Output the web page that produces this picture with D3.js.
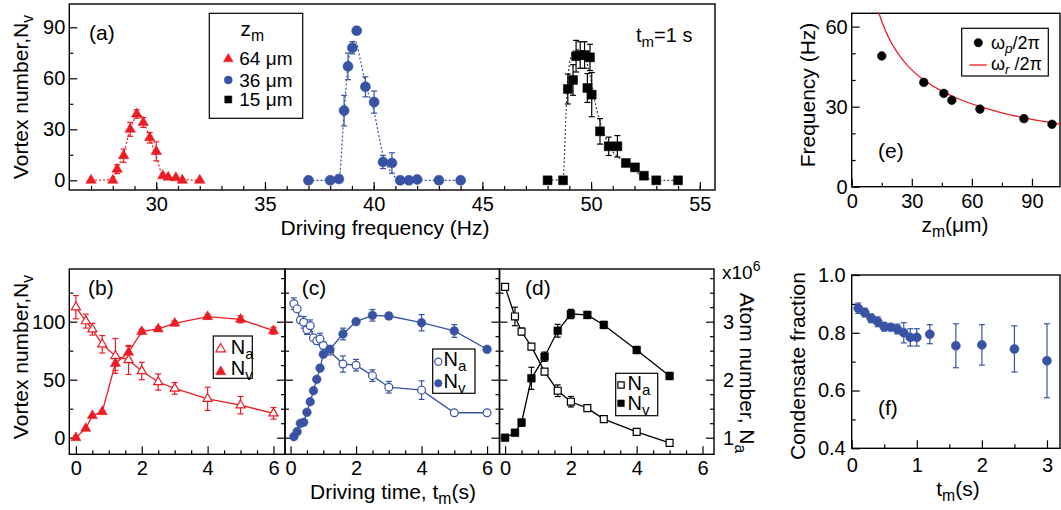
<!DOCTYPE html>
<html>
<head>
<meta charset="utf-8">
<style>
  body { margin: 0; background: #fff; }
  svg text { font-family: "Liberation Sans", Arial, sans-serif; fill: #000; }
  svg .tick text { font-size: 20px; }
  svg .tick line { stroke: #000; stroke-width: 1.2px; }
  svg .frame { fill: none; stroke: #000; stroke-width: 1.4px; }
  svg .legbox { fill: #fff; stroke: #000; stroke-width: 1.2px; }
</style>
</head>
<body>
<script src="https://d3js.org/d3.v7.min.js"></script>
<script>
// ---------- data ----------
// (a) vortex number vs driving frequency, three z_m values
var redF  = [27, 28, 28.2, 28.5, 28.8, 29.1, 29.4, 29.7, 30.0, 30.3, 30.55, 30.9, 31.2, 32];
var redN  = [0, 0, 6.5, 14.5, 30, 39, 34, 25, 17, 2.7, 1.8, 1.5, 0, 0];
var redE  = [0, 0, 2.6, 3.9, 4.1, 2.5, 2.9, 3.1, 5.6, 0, 0, 0, 0, 0];
var redFitF = [27, 28, 28.2, 28.5, 28.8, 29.1, 29.25, 29.4, 29.7, 30.0, 30.3, 30.6, 31, 32];
var redFitN = [0, 0.5, 7, 16, 30, 38, 39, 35, 25, 14, 3, 1.5, 0.8, 0];

var blueF = [37, 38, 38.4, 38.64, 38.82, 39.02, 39.22, 39.62, 40.02, 40.43, 40.84, 41.22, 41.62, 42.0, 43, 44];
var blueN = [0, 0, 0.8, 41, 67, 78, 88, 55, 46, 10.8, 10.2, 0, 0, 0.5, 0, 0];
var blueE = [0, 0, 0, 9, 7.8, 3.6, 0, 5.9, 6.5, 3.9, 6, 0, 0, 0, 0, 0];
var blueFitF = [37, 38, 38.4, 38.64, 38.82, 39.0, 39.15, 39.4, 39.62, 40.02, 40.43, 40.84, 41.22, 42, 44];
var blueFitN = [0, 0, 1, 40, 68, 80, 82, 70, 57, 40, 15, 4, 0.5, 0, 0];

var blackF = [48, 48.71, 48.93, 49.17, 49.31, 49.5, 49.7, 49.83, 49.95, 50.03, 50.41, 50.81, 51.21, 51.6, 52.02, 52.43, 53, 54];
var blackN = [0, 0, 53.7, 59, 73, 73.7, 73.7, 54.3, 72.3, 50.4, 28.8, 20, 20, 10.2, 7.6, 2.7, 0, 0];
var blackE = [0, 0, 8.8, 9, 9.3, 7.8, 7.8, 8.5, 7.7, 13, 7.5, 5.4, 6.3, 1.5, 1.5, 0, 0, 0];
var blackFitF = [48, 48.71, 48.85, 49.0, 49.2, 49.45, 49.7, 49.95, 50.2, 50.5, 50.8, 51.5, 52.3, 53, 54];
var blackFitN = [0, 0.5, 40, 68, 76, 77, 73, 62, 45, 31, 21, 11, 3, 0, 0];

// (e) peak frequency vs z_m, and radial trap frequency curve
var eZ = [15, 36, 46, 50, 64, 86, 100];
var eF = [49, 39.1, 35.0, 32.4, 29.1, 25.5, 23.4];
var eCurveZ = [13.5, 15, 18, 22, 26, 30, 36, 45, 55, 65, 75, 85, 95, 104];
var eCurveF = [65.3, 62, 56.6, 51.2, 47.1, 43.8, 40, 35.8, 32.4, 29.8, 27.7, 26, 24.6, 23.5];

// (b) 64 um
var bT = [0, 0.3, 0.5, 0.8, 1.2, 1.6, 2, 2.5, 3, 4, 5, 6];
var bNv = [0, 8, 19, 22.4, 64, 73.6, 91.4, 93.7, 98.6, 104.3, 102, 92.2];
var bNvE = [0, 0, 0, 0, 6, 5, 2, 2, 2, 2, 3, 3];
var bNa = [3.25, 3.01, 2.87, 2.61, 2.41, 2.34, 2.15, 1.96, 1.85, 1.67, 1.56, 1.42];
var bNaE = [0.2, 0.12, 0.1, 0.15, 0.3, 0.25, 0.15, 0.14, 0.1, 0.2, 0.15, 0.1];

// (c) 36 um
var cT = [0.1, 0.2, 0.3, 0.4, 0.5, 0.6, 0.7, 0.8, 0.9, 1.0, 1.2, 1.6, 2, 2.5, 3, 4, 5, 6];
var cNv = [0.9, 5.2, 12.4, 13.3, 21.9, 31, 40.5, 50.3, 60, 71.9, 76.2, 89.4, 100, 105.5, 104.9, 99.1, 92, 76.2];
var cNvE = [0, 0, 0, 0, 0, 0, 0, 0, 2, 2, 3, 5, 2, 5, 3, 7, 5.5, 2];
var cNa = [3.31, 3.22, 3.03, 2.99, 2.86, 2.93, 2.72, 2.67, 2.70, 2.59, 2.49, 2.27, 2.25, 2.07, 1.87, 1.82, 1.43, 1.43];
var cNaE = [0.1, 0.05, 0.05, 0.1, 0.08, 0.1, 0.06, 0.06, 0.1, 0.06, 0.05, 0.14, 0.1, 0.1, 0.1, 0.16, 0, 0];

// (d) 15 um
var dT = [0, 0.3, 0.5, 0.8, 1.2, 1.6, 2, 2.5, 3, 4, 5];
var dNv = [0, 4.3, 13, 51.2, 69.8, 92.2, 106.6, 105.8, 97.2, 75.6, 53.2];
var dNvE = [0, 0, 3, 9.5, 4, 5.5, 4, 3, 3, 3, 3];
var dNa = [3.60, 3.09, 2.83, 2.57, 2.14, 1.81, 1.62, 1.51, 1.32, 1.10, 0.91];
var dNaE = [0.05, 0.16, 0.06, 0.04, 0.05, 0.1, 0.09, 0.05, 0.03, 0.03, 0.03];

// (f) condensate fraction
var fT = [0.1, 0.2, 0.3, 0.4, 0.5, 0.6, 0.7, 0.8, 0.9, 1.0, 1.2, 1.6, 2, 2.5, 3];
var fV = [0.885, 0.870, 0.850, 0.838, 0.821, 0.819, 0.813, 0.80, 0.784, 0.784, 0.795, 0.755, 0.758, 0.744, 0.703];
var fE = [0.018, 0.015, 0.015, 0.017, 0.015, 0.01, 0.017, 0.035, 0.03, 0.03, 0.033, 0.076, 0.07, 0.08, 0.128];

var RED = "#ed1c24", BLUE = "#3953a4", BLACK = "#000";

// ---------- helpers ----------
var svg = d3.select("body").append("svg").attr("width", 1061).attr("height", 510);

function panel(left, right, top, bottom, xdom, ydom) {
  return {
    left: left, right: right, top: top, bottom: bottom,
    x: d3.scaleLinear().domain(xdom).range([left, right]),
    y: d3.scaleLinear().domain(ydom).range([bottom, top])
  };
}

function frame(p) {
  svg.append("rect").attr("class", "frame")
    .attr("x", p.left).attr("y", p.top)
    .attr("width", p.right - p.left).attr("height", p.bottom - p.top);
}

function tickAxis(axisFn, scale, tr, major, minor, fmt, pad) {
  var g = svg.append("g").attr("transform", tr)
    .call(axisFn(scale).tickValues(minor).tickSize(-4).tickFormat(""));
  g.select(".domain").remove();
  var g2 = svg.append("g").attr("transform", tr)
    .call(axisFn(scale).tickValues(major).tickSize(-8).tickPadding(pad).tickFormat(fmt));
  g2.select(".domain").remove();
}

function txt(x, y, main, sub, size, anchor, rot, tail, italicSub) {
  var t = svg.append("text")
    .attr("transform", "translate(" + x + "," + y + ")" + (rot ? " rotate(" + rot + ")" : ""))
    .attr("text-anchor", anchor || "start")
    .style("font-size", size + "px");
  t.append("tspan").text(main);
  if (sub) {
    var s = t.append("tspan").attr("dy", size * 0.24).style("font-size", (size * 0.75) + "px").text(sub);
    if (italicSub) s.style("font-style", "italic");
  }
  if (tail) t.append("tspan").attr("dy", sub ? -size * 0.24 : 0).text(tail);
  return t;
}

function errorBars(xs, ys, es, xsc, ysc, color) {
  var g = svg.append("g").attr("stroke", color).attr("stroke-width", 1.2);
  xs.forEach(function (xv, i) {
    if (!es[i]) return;
    var cx = xsc(xv), y0 = ysc(ys[i] - es[i]), y1 = ysc(ys[i] + es[i]);
    g.append("line").attr("x1", cx).attr("x2", cx).attr("y1", y0).attr("y2", y1);
    g.append("line").attr("x1", cx - 3).attr("x2", cx + 3).attr("y1", y0).attr("y2", y0);
    g.append("line").attr("x1", cx - 3).attr("x2", cx + 3).attr("y1", y1).attr("y2", y1);
  });
}

function markers(xs, ys, xsc, ysc, type, size, color, filled) {
  var sym = d3.symbol().type(type).size(size);
  svg.append("g").selectAll("path").data(xs).join("path")
    .attr("transform", function (d, i) { return "translate(" + xsc(d) + "," + ysc(ys[i]) + ")"; })
    .attr("d", sym)
    .attr("fill", filled ? color : "#fff")
    .attr("stroke", color).attr("stroke-width", filled ? 0.5 : 1.2);
}

function connect(xs, ys, xsc, ysc, color, dash, curve) {
  var line = d3.line().x(function (d) { return xsc(d); })
    .y(function (d, i) { return ysc(ys[i]); })
    .curve(curve || d3.curveLinear);
  svg.append("path").attr("d", line(xs)).attr("fill", "none")
    .attr("stroke", color).attr("stroke-width", dash ? 1.2 : 1.3)
    .attr("stroke-dasharray", dash || null);
}

function legendEntry(x, y, type, size, color, filled) {
  svg.append("path").attr("transform", "translate(" + x + "," + y + ")")
    .attr("d", d3.symbol().type(type).size(size)())
    .attr("fill", filled ? color : "#fff").attr("stroke", color).attr("stroke-width", filled ? 0.5 : 1.2);
}

var fmtD = d3.format("d");

// ---------- panel (a) ----------
var pa = panel(69.3, 715, 4, 190, [26, 55.7], [-5.7, 103.7]);
tickAxis(d3.axisBottom, pa.x, "translate(0," + pa.bottom + ")", [30, 35, 40, 45, 50, 55], d3.range(27, 56, 1), fmtD, 7);
tickAxis(d3.axisLeft, pa.y, "translate(" + pa.left + ",0)", [0, 30, 60, 90], [15, 45, 75], fmtD, 4);
frame(pa);

connect(redFitF, redFitN, pa.x, pa.y, RED, "2,2", d3.curveMonotoneX);
connect(blueFitF, blueFitN, pa.x, pa.y, BLUE, "2,2", d3.curveMonotoneX);
connect(blackFitF, blackFitN, pa.x, pa.y, "#444", "2,2", d3.curveMonotoneX);
errorBars(redF, redN, redE, pa.x, pa.y, RED);
errorBars(blueF, blueN, blueE, pa.x, pa.y, BLUE);
errorBars(blackF, blackN, blackE, pa.x, pa.y, BLACK);
markers(redF, redN, pa.x, pa.y, d3.symbolTriangle, 48, RED, true);
markers(blueF, blueN, pa.x, pa.y, d3.symbolCircle, 80, BLUE, true);
markers(blackF, blackN, pa.x, pa.y, d3.symbolSquare, 80, BLACK, true);

txt(89, 40, "(a)", null, 21);
txt(636, 42, "t", "m", 20, "start", 0, "=1 s");
txt(28, 97, "Vortex number,N", "v", 21, "middle", -90);
txt(385, 235, "Driving frequency (Hz)", null, 21, "middle");

svg.append("rect").attr("class", "legbox").attr("x", 209.3).attr("y", 13.3).attr("width", 93.4).attr("height", 105);
txt(240.5, 35.7, "z", "m", 21);
legendEntry(228.3, 59, d3.symbolTriangle, 40, RED, true);
legendEntry(228.3, 80, d3.symbolCircle, 50, BLUE, true);
legendEntry(228.3, 99.5, d3.symbolSquare, 50, BLACK, true);
txt(239.3, 65, "64 \u03bcm", null, 19);
txt(239.3, 86.5, "36 \u03bcm", null, 19);
txt(239.3, 105.5, "15 \u03bcm", null, 19);

// ---------- panel (e) ----------
var pe = panel(851.7, 1060, 13.3, 186.7, [0, 104], [0, 65]);
tickAxis(d3.axisBottom, pe.x, "translate(0," + pe.bottom + ")", [0, 30, 60, 90], [15, 45, 75], fmtD, 7);
tickAxis(d3.axisLeft, pe.y, "translate(" + pe.left + ",0)", [0, 30, 60], [10, 20, 40, 50], fmtD, 4);
frame(pe);
connect(eCurveZ, eCurveF, pe.x, pe.y, RED, null, d3.curveNatural);
markers(eZ, eF, pe.x, pe.y, d3.symbolCircle, 60, BLACK, true);
txt(878, 158, "(e)", null, 21);
txt(815, 95, "Frequency (Hz)", null, 21, "middle", -90);
txt(955, 232, "z", "m", 21, "middle", 0, "(\u03bcm)");

svg.append("rect").attr("class", "legbox").attr("x", 961.7).attr("y", 28.3).attr("width", 86.6).attr("height", 47.7);
legendEntry(978.3, 42.7, d3.symbolCircle, 55, BLACK, true);
svg.append("line").attr("x1", 969.5).attr("x2", 986.7).attr("y1", 65).attr("y2", 65).attr("stroke", RED).attr("stroke-width", 1.3);
txt(991, 49, "\u03c9", "p", 18, "start", 0, "/2\u03c0", true);
txt(991, 70, "\u03c9", "r", 18, "start", 0, " /2\u03c0", true);

// ---------- panels (b), (c), (d) ----------
var nvDom = [-14.3, 145.4], naDom = [0.714, 3.908];
var pb = panel(69.3, 285, 269, 454.3, [-0.2, 6.35], nvDom);
var pc = panel(285, 499.5, 269, 454.3, [-0.17, 6.38], nvDom);
var pd = panel(499.5, 714, 269, 454.3, [-0.17, 6.35], nvDom);
var naY = d3.scaleLinear().domain(naDom).range([454.3, 269]);

[pb, pc, pd].forEach(function (p, k) {
  tickAxis(d3.axisBottom, p.x, "translate(0," + p.bottom + ")", [0, 2, 4, 6], [0.5, 1, 1.5, 2.5, 3, 3.5, 4.5, 5, 5.5], fmtD, 7);
  tickAxis(d3.axisLeft, p.y, "translate(" + p.left + ",0)", [0, 50, 100], [25, 75, 125], k === 0 ? fmtD : "", 4);
  tickAxis(d3.axisRight, naY, "translate(" + p.right + ",0)", [1, 2, 3], [1.25, 1.5, 1.75, 2.25, 2.5, 2.75, 3.25, 3.5, 3.75], k === 2 ? fmtD : "", 9);
  frame(p);
});

function timePanel(p, tv, nv, nvE, na, naE, color, type, sizeF) {
  var ya = naY;
  connect(tv, na, p.x, ya, color);
  connect(tv, nv, p.x, p.y, color);
  errorBars(tv, na, naE, p.x, ya, color);
  errorBars(tv, nv, nvE, p.x, p.y, color);
  markers(tv, na, p.x, ya, type, sizeF * 0.8, color, false);
  markers(tv, nv, p.x, p.y, type, sizeF, color, true);
}
timePanel(pb, bT, bNv, bNvE, bNa, bNaE, RED, d3.symbolTriangle, 45);
timePanel(pc, cT, cNv, cNvE, cNa, cNaE, BLUE, d3.symbolCircle, 60);
timePanel(pd, dT, dNv, dNvE, dNa, dNaE, BLACK, d3.symbolSquare, 60);

txt(88, 295, "(b)", null, 21);
txt(301.7, 295, "(c)", null, 21);
txt(525, 295, "(d)", null, 21);
txt(28, 357, "Vortex number,N", "v", 21, "middle", -90);
txt(393, 499, "Driving time, t", "m", 21, "middle", 0, "(s)");
txt(740, 373, "Atom number, N", "a", 21, "middle", 90);
var x6 = svg.append("text").attr("x", 722).attr("y", 279).style("font-size", "19px");
x6.append("tspan").text("x10");
x6.append("tspan").attr("dy", -8).style("font-size", "14px").text("6");

// legends (b)(c)(d)
[[pb, 213.3, 336, 39, 42.3, RED, d3.symbolTriangle, 220.7, 349, 371.7, 230.7, 354, 375],
 [pc, 432.7, 349, 42.3, 44.3, BLUE, d3.symbolCircle, 438.3, 361.7, 383.3, 443.5, 366, 388],
 [pd, 615.7, 373.3, 42, 42.4, BLACK, d3.symbolSquare, 621, 385, 403.3, 627.5, 390, 410]
].forEach(function (L) {
  svg.append("rect").attr("class", "legbox").attr("x", L[1]).attr("y", L[2]).attr("width", L[3]).attr("height", L[4]);
  legendEntry(L[7], L[8], L[6], 40, L[5], false);
  legendEntry(L[7], L[9], L[6], 45, L[5], true);
  txt(L[10], L[11], "N", "a", 20);
  txt(L[10], L[12], "N", "v", 20);
});

// ---------- panel (f) ----------
var pf = panel(851.7, 1060, 275, 448.3, [0, 3.2], [0.4, 1.0]);
tickAxis(d3.axisBottom, pf.x, "translate(0," + pf.bottom + ")", [0, 1, 2, 3], [0.5, 1.5, 2.5], fmtD, 10);
tickAxis(d3.axisLeft, pf.y, "translate(" + pf.left + ",0)", [0.4, 0.6, 0.8, 1.0], [0.5, 0.7, 0.9], d3.format(".1f"), 6);
frame(pf);
errorBars(fT, fV, fE, pf.x, pf.y, BLUE);
markers(fT, fV, pf.x, pf.y, d3.symbolCircle, 65, BLUE, true);
txt(878, 415, "(f)", null, 21);
txt(805, 366, "Condensate fraction", null, 21, "middle", -90);
txt(958, 496, "t", "m", 21, "middle", 0, "(s)");
</script>
</body>
</html>
